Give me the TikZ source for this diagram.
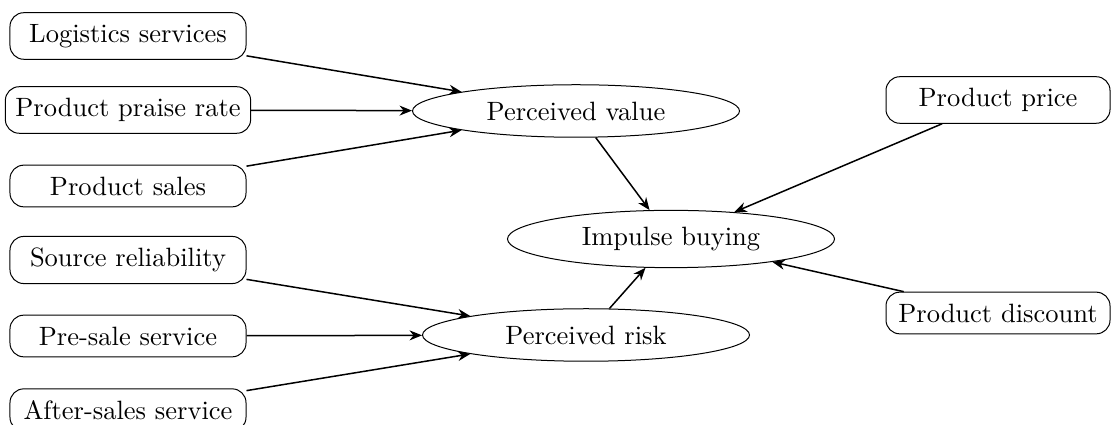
\documentclass[tikz,border=0pt]{standalone}
\usetikzlibrary{shapes.geometric,arrows.meta}
\begin{document}
\begin{tikzpicture}
        [x=0.4pt,y=0.4pt,>={Stealth[length=5pt,width=4pt]},
         every node/.style={font=\fontsize{10.6}{12}\selectfont},
         factor/.style={draw, rounded corners=5.5pt, inner xsep=4pt, inner ysep=4.6pt, minimum width=94.4pt},
         latent/.style={draw, ellipse, minimum width=130.8pt, minimum height=21pt}]
      \useasboundingbox (0,0) rectangle (1111,425);
      \node[factor] (logi) at (128,389) {Logistics services};
      \node[factor] (praise) at (128,315) {Product praise rate};
      \node[factor] (sales) at (128,239) {Product sales};
      \node[factor] (source) at (128,165) {Source reliability};
      \node[factor] (presale) at (128,89) {Pre-sale service};
      \node[factor] (after) at (128,15) {After-sales service};
      \node[latent] (value) at (576,314) {Perceived value};
      \node[latent] (buy) at (671,186) {Impulse buying};
      \node[latent] (risk) at (586,90) {Perceived risk};
      \node[factor, minimum width=89.6pt] (price) at (998,325) {Product price};
      \node[factor, minimum width=89.6pt] (discount) at (998,112) {Product discount};

      \foreach \from/\to in {logi/value, praise/value, sales/value, source/risk, presale/risk, after/risk, value/buy, risk/buy, price/buy, discount/buy}
        \draw[->, line width=0.6pt] (\from) -- (\to);
    \end{tikzpicture}
\end{document}
